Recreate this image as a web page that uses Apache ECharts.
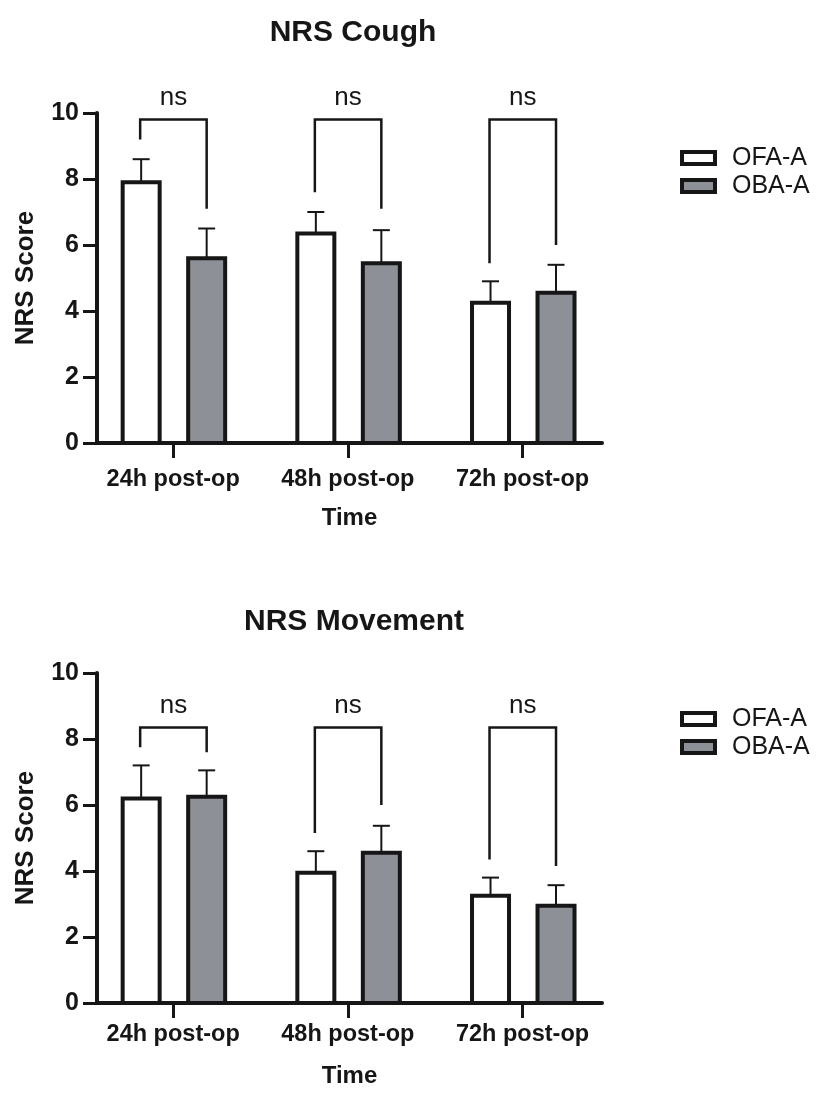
<!DOCTYPE html>
<html>
<head>
<meta charset="utf-8">
<script src="https://cdn.jsdelivr.net/npm/echarts@6/dist/echarts.min.js"></script>
<style>
html,body{margin:0;padding:0;background:#fff;}
#chart{width:818px;height:1115px;}
</style>
</head>
<body>
<div id="chart"></div>
<script>
// ---- data ----
const categories = ['24h post-op', '48h post-op', '72h post-op'];
const seriesNames = ['OFA-A', 'OBA-A'];
const yTickValues = [0, 2, 4, 6, 8, 10];

const coughOFA   = [7.9, 6.35, 4.25];
const coughOFASD = [0.7, 0.65, 0.65];
const coughOBA   = [5.6, 5.45, 4.55];
const coughOBASD = [0.9, 1.0, 0.85];
const coughBracketTop   = [9.8, 9.8, 9.8];
const coughBracketLeft  = [9.2, 7.6, 5.45];
const coughBracketRight = [7.1, 7.1, 6.0];
const coughSig = ['ns', 'ns', 'ns'];

const moveOFA   = [6.2, 3.95, 3.25];
const moveOFASD = [1.0, 0.65, 0.55];
const moveOBA   = [6.25, 4.55, 2.95];
const moveOBASD = [0.8, 0.82, 0.62];
const moveBracketTop   = [8.35, 8.35, 8.35];
const moveBracketLeft  = [7.75, 5.15, 4.35];
const moveBracketRight = [7.6, 6.0, 4.15];
const moveSig = ['ns', 'ns', 'ns'];

// ---- styles ----
const FONT = "'Liberation Sans', Arial, Helvetica, sans-serif";
const INK = '#161616';
const GRAY = '#8d9096';
const OFF_OFA = -32, OFF_OBA = 33.5;   // px offset from category centre
const BAR_W = 37, BAR_STROKE = 4, CAP_W = 17;

function barRenderer(offset, fill) {
  return function (params, api) {
    const i = api.value(0), v = api.value(1), sd = api.value(2);
    const top = api.coord([i, v]);
    const base = api.coord([i, 0]);
    const err = api.coord([i, v + sd]);
    const cx = top[0] + offset;
    return {
      type: 'group',
      children: [
        { type: 'line', shape: { x1: cx, y1: top[1], x2: cx, y2: err[1] },
          style: { stroke: INK, lineWidth: 2 } },
        { type: 'line', shape: { x1: cx - CAP_W / 2, y1: err[1], x2: cx + CAP_W / 2, y2: err[1] },
          style: { stroke: INK, lineWidth: 2 } },
        { type: 'rect', shape: { x: cx - BAR_W / 2, y: top[1], width: BAR_W, height: base[1] - top[1] },
          style: { fill: fill, stroke: INK, lineWidth: BAR_STROKE } }
      ]
    };
  };
}

function bracketRenderer(sigs) {
  return function (params, api) {
    const i = api.value(0);
    const t = api.coord([i, api.value(1)]);
    const l = api.coord([i, api.value(2)]);
    const r = api.coord([i, api.value(3)]);
    const xl = t[0] + OFF_OFA - 1, xr = t[0] + OFF_OBA;
    return {
      type: 'group',
      children: [
        { type: 'polyline', shape: { points: [[xl, l[1]], [xl, t[1]], [xr, t[1]], [xr, r[1]]] },
          style: { stroke: INK, lineWidth: 2.5, fill: null } },
        { type: 'text', x: (xl + xr) / 2, y: t[1] - 22,
          style: { text: sigs[params.dataIndex], font: '26px ' + FONT, fill: INK,
                   align: 'center', verticalAlign: 'middle' } }
      ]
    };
  };
}

function makeXAxis(gi, labelMargin, nameGap) {
  return {
    type: 'value', gridIndex: gi, min: -0.436, max: 2.455,
    name: 'Time', nameLocation: 'middle', nameGap: nameGap,
    nameTextStyle: { fontFamily: FONT, fontWeight: 'bold', fontSize: 24, color: INK },
    splitLine: { show: false },
    axisLine: { show: true, onZero: false, lineStyle: { color: INK, width: 4 } },
    axisTick: { show: true, customValues: [0, 1, 2], length: 15, lineStyle: { color: INK, width: 3 } },
    axisLabel: { customValues: [0, 1, 2], margin: labelMargin,
      formatter: v => categories[Math.round(v)] || '',
      fontFamily: FONT, fontWeight: 'bold', fontSize: 23.5, color: INK }
  };
}
function makeYAxis(gi) {
  return {
    type: 'value', gridIndex: gi, min: 0, max: 10, interval: 2,
    name: 'NRS Score', nameLocation: 'middle', nameGap: 58, nameRotate: 90,
    nameTextStyle: { fontFamily: FONT, fontWeight: 'bold', fontSize: 26, color: INK },
    splitLine: { show: false },
    axisLine: { show: true, onZero: false, lineStyle: { color: INK, width: 4 } },
    axisTick: { show: true, length: 14, lineStyle: { color: INK, width: 3 } },
    axisLabel: { margin: 18, fontFamily: FONT, fontWeight: 'bold', fontSize: 25, color: INK,
      formatter: v => (yTickValues.indexOf(v) >= 0 ? String(v) : '') }
  };
}
function makeLegend(top) {
  return {
    orient: 'vertical', left: 675, top: top, itemWidth: 33, itemHeight: 12, itemGap: 2,
    icon: 'rect', selectedMode: false,
    textStyle: { fontFamily: FONT, fontSize: 25, color: INK, lineHeight: 26, padding: [0, 0, 0, 12] },
    data: [
      { name: seriesNames[0], itemStyle: { color: '#ffffff', borderColor: INK, borderWidth: 4 } },
      { name: seriesNames[1], itemStyle: { color: GRAY, borderColor: INK, borderWidth: 4 } }
    ]
  };
}
function zip3(a, b, c) { return a.map((v, i) => [i, v, b[i], c ? c[i] : 0]); }

const option = {
  backgroundColor: '#ffffff',
  animation: false,
  title: [
    { text: 'NRS Cough', left: 348, top: 13, textAlign: 'center',
      textStyle: { fontFamily: FONT, fontWeight: 'bold', fontSize: 30, color: INK } },
    { text: 'NRS Movement', left: 349, top: 602, textAlign: 'center',
      textStyle: { fontFamily: FONT, fontWeight: 'bold', fontSize: 30, color: INK } }
  ],
  legend: [makeLegend(140), makeLegend(701)],
  grid: [
    { left: 97, right: 216, top: 113, bottom: 672 },
    { left: 97, right: 216, top: 673, bottom: 112 }
  ],
  xAxis: [makeXAxis(0, 25, 63), makeXAxis(1, 20, 61)],
  yAxis: [makeYAxis(0), makeYAxis(1)],
  series: [
    { type: 'custom', name: seriesNames[0], xAxisIndex: 0, yAxisIndex: 0,
      itemStyle: { color: '#ffffff' }, encode: { x: 0, y: 1 },
      data: zip3(coughOFA, coughOFASD), renderItem: barRenderer(OFF_OFA, '#ffffff') },
    { type: 'custom', name: seriesNames[1], xAxisIndex: 0, yAxisIndex: 0,
      itemStyle: { color: GRAY }, encode: { x: 0, y: 1 },
      data: zip3(coughOBA, coughOBASD), renderItem: barRenderer(OFF_OBA, GRAY) },
    { type: 'custom', name: 'brackets1', xAxisIndex: 0, yAxisIndex: 0, encode: { x: 0, y: 1 },
      data: zip3(coughBracketTop, coughBracketLeft, coughBracketRight), renderItem: bracketRenderer(coughSig) },
    { type: 'custom', name: seriesNames[0], xAxisIndex: 1, yAxisIndex: 1,
      itemStyle: { color: '#ffffff' }, encode: { x: 0, y: 1 },
      data: zip3(moveOFA, moveOFASD), renderItem: barRenderer(OFF_OFA, '#ffffff') },
    { type: 'custom', name: seriesNames[1], xAxisIndex: 1, yAxisIndex: 1,
      itemStyle: { color: GRAY }, encode: { x: 0, y: 1 },
      data: zip3(moveOBA, moveOBASD), renderItem: barRenderer(OFF_OBA, GRAY) },
    { type: 'custom', name: 'brackets2', xAxisIndex: 1, yAxisIndex: 1, encode: { x: 0, y: 1 },
      data: zip3(moveBracketTop, moveBracketLeft, moveBracketRight), renderItem: bracketRenderer(moveSig) }
  ]
};

const chart = echarts.init(document.getElementById('chart'), null, { renderer: 'canvas' });
chart.setOption(option);
</script>
</body>
</html>
